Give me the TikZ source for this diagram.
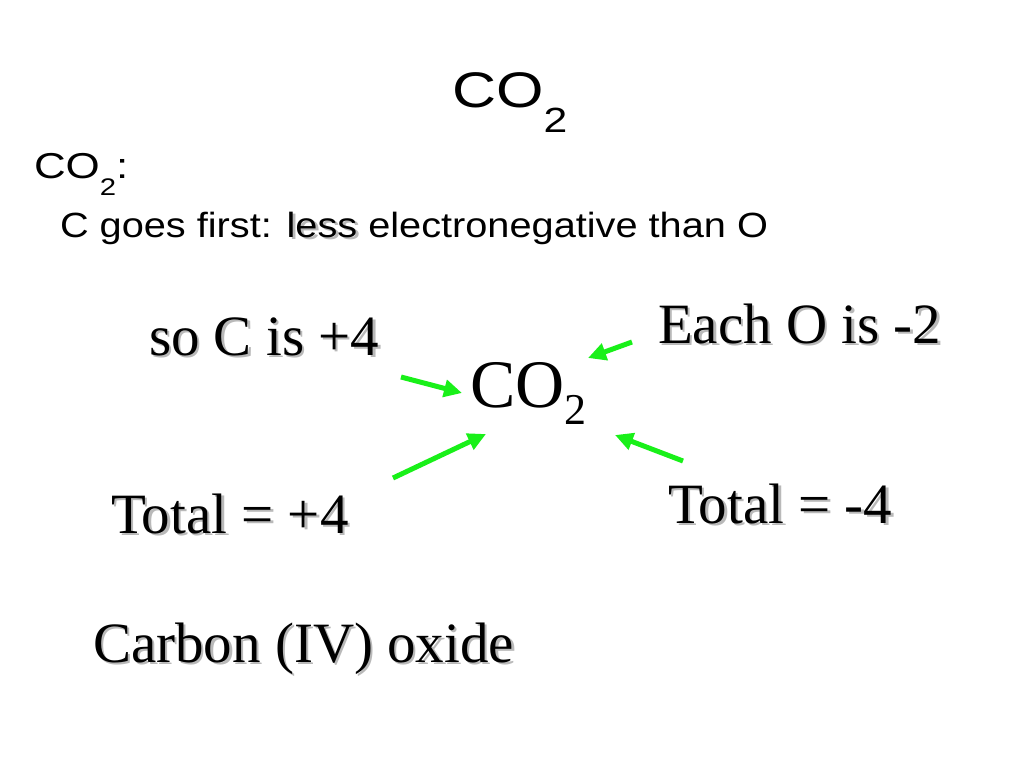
\documentclass[tikz,border=0pt]{standalone}
\usepackage{fontspec}
\setmainfont{Liberation Serif}
\setsansfont{Liberation Sans}
\usepackage{graphicx}
\usetikzlibrary{arrows.meta}
\definecolor{arrowgreen}{RGB}{25,240,25}
\definecolor{shadowgray}{RGB}{185,185,185}
\newcommand{\shtext}[1]{\makebox[0pt][l]{\hspace{2.5pt}\raisebox{-2.5pt}{\textcolor{shadowgray}{#1}}}#1}
\tikzset{
  lbl/.style={anchor=base west, inner sep=0pt, outer sep=0pt},
  serifbig/.style={lbl, font=\fontsize{57}{60}\selectfont},
  sansline/.style={lbl, font=\sffamily\fontsize{35}{40}\selectfont},
  pointer/.style={draw=arrowgreen, line width=5pt, -{Triangle[length=18pt,width=17pt]}},
}
\begin{document}
\begin{tikzpicture}[x=1pt,y=-1pt]
\useasboundingbox (0,0) rectangle (1024,768);
\fill[white] (0,0) rectangle (1024,768);

\node[lbl, font=\sffamily\fontsize{50}{52}\selectfont] (title) at (452,107)
  {\scalebox{1.22}[1]{CO\raisebox{-25pt}{\fontsize{35}{35}\selectfont 2}}};
\node[lbl, font=\sffamily\fontsize{36}{40}\selectfont] (head) at (34,178)
  {\scalebox{1.22}[1]{CO\raisebox{-17pt}{\fontsize{24}{24}\selectfont 2}:}};
\node[sansline] (rule) at (60,237)
  {\scalebox{1.135}[1]{C goes first: \shtext{less} electronegative than O}};

\node[lbl, font=\fontsize{68}{70}\selectfont] (co2) at (470,407)
  {CO\raisebox{-17pt}{\fontsize{44}{44}\selectfont 2}};

\node[serifbig] (soC) at (149,355) {\shtext{so C is +4}};
\node[serifbig] (eachO) at (658,343) {\shtext{Each O is -2}};
\node[serifbig] (totp) at (111,533) {\shtext{Total = +4}};
\node[serifbig] (totm) at (668,523) {\shtext{Total = -4}};
\node[serifbig] (name) at (93,662) {\shtext{Carbon (IV) oxide}};

\coordinate (a1s) at (401,377);
\coordinate (a1e) at (462,393);
\coordinate (a2s) at (632,342);
\coordinate (a2e) at (588,358);
\coordinate (a3s) at (393,478);
\coordinate (a3e) at (486,434);
\coordinate (a4s) at (683,461);
\coordinate (a4e) at (615,435);
\draw[pointer] (a1s) -- (a1e);
\draw[pointer] (a2s) -- (a2e);
\draw[pointer] (a3s) -- (a3e);
\draw[pointer] (a4s) -- (a4e);
\end{tikzpicture}
\end{document}
